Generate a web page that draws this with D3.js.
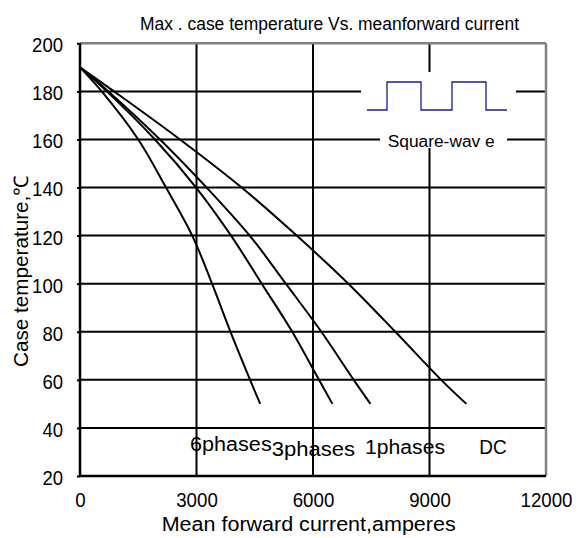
<!DOCTYPE html>
<html>
<head>
<meta charset="utf-8">
<script src="https://cdn.jsdelivr.net/npm/d3@7"></script>
<style>
  body { margin: 0; background: #fff; }
  svg { display: block; font-family: "Liberation Sans", Arial, sans-serif; }
</style>
</head>
<body>
<div id="chart"></div>
<script>
// case temperature points shared by every curve
const temps = [190, 180, 160, 140, 120, 100, 80, 60, 50];
// mean forward current (A) read where each curve meets those temperatures
const amps6ph = [0, 560, 1500, 2215, 2890, 3400, 3875, 4380, 4640];
const amps3ph = [0, 690, 1930, 2990, 3890, 4679, 5465, 6155, 6500];
const amps1ph = [0, 730, 2060, 3260, 4370, 5300, 6215, 7048, 7480];
const ampsDC  = [0, 875, 2575, 4163, 5580, 6910, 8120, 9300, 9950];
const seriesNames = ["6phases", "3phases", "1phases", "DC"];
const xTicks = [0, 3000, 6000, 9000, 12000];
const yTicks = [20, 40, 60, 80, 100, 120, 140, 160, 180, 200];

const W = 585, H = 538;
const plotL = 80, plotR = 546, plotT = 43.3, plotB = 476;

const svg = d3.select("#chart").append("svg")
  .attr("width", W).attr("height", H);

const x = d3.scaleLinear().domain([0, 12000]).range([plotL, plotR]);
const y = d3.scaleLinear().domain([20, 200]).range([plotB, plotT]);

// grid
svg.append("g")
  .selectAll("line")
  .data(yTicks.slice(1, -1))
  .enter().append("line")
  .attr("x1", plotL).attr("x2", plotR)
  .attr("y1", d => y(d)).attr("y2", d => y(d))
  .attr("stroke", "#000").attr("stroke-width", 2);

svg.append("g")
  .selectAll("line")
  .data(xTicks.slice(1, -1))
  .enter().append("line")
  .attr("x1", d => x(d)).attr("x2", d => x(d))
  .attr("y1", plotT).attr("y2", plotB)
  .attr("stroke", "#000").attr("stroke-width", 2);

// frame: grey top/right, black left/bottom
svg.append("line").attr("x1", plotL).attr("x2", plotR).attr("y1", plotT).attr("y2", plotT)
  .attr("stroke", "#808080").attr("stroke-width", 2.5);
svg.append("line").attr("x1", plotR).attr("x2", plotR).attr("y1", plotT).attr("y2", plotB)
  .attr("stroke", "#808080").attr("stroke-width", 2.5);
svg.append("line").attr("x1", plotL).attr("x2", plotR).attr("y1", plotB).attr("y2", plotB)
  .attr("stroke", "#000").attr("stroke-width", 2.5);
svg.append("line").attr("x1", plotL).attr("x2", plotL).attr("y1", plotT).attr("y2", plotB)
  .attr("stroke", "#000").attr("stroke-width", 2.5);

// axes (labels only, the frame is drawn above)
const xAxis = svg.append("g")
  .attr("transform", "translate(0," + plotB + ")")
  .call(d3.axisBottom(x).tickValues(xTicks).tickSize(0).tickPadding(0).tickFormat(d3.format("d")));
xAxis.select(".domain").remove();
xAxis.selectAll("text")
  .attr("y", 30.5).attr("dy", null)
  .attr("fill", "#000")
  .style("font-size", "20px")
  .attr("textLength", d => String(d).length * 10.4)
  .attr("lengthAdjust", "spacingAndGlyphs");

const yAxis = svg.append("g")
  .attr("transform", "translate(" + plotL + ",0)")
  .call(d3.axisLeft(y).tickValues(yTicks).tickSize(3).tickPadding(14));
yAxis.select(".domain").remove();
yAxis.selectAll("line").attr("stroke", "#000").attr("stroke-width", 2);
yAxis.selectAll("text")
  .attr("dy", "0.32em")
  .attr("y", 2)
  .attr("fill", "#000")
  .style("font-size", "20px")
  .attr("textLength", d => String(d).length * 10.3)
  .attr("lengthAdjust", "spacingAndGlyphs");

// curves
const allAmps = [amps6ph, amps3ph, amps1ph, ampsDC];
const line = d3.line()
  .x(d => x(d[0]))
  .y(d => y(d[1]))
  .curve(d3.curveCatmullRom.alpha(0.5));

svg.append("g")
  .selectAll("path")
  .data(allAmps.map(a => a.map((v, i) => [v, temps[i]])))
  .enter().append("path")
  .attr("d", line)
  .attr("fill", "none")
  .attr("stroke", "#000")
  .attr("stroke-width", 2);

// series labels along the bottom
const labelPos = [[190, 451, 81.7], [271.7, 455.7, 83.3], [365, 454, 80], [479.3, 454, 27.4]];
svg.append("g")
  .selectAll("text")
  .data(seriesNames)
  .enter().append("text")
  .attr("x", (d, i) => labelPos[i][0])
  .attr("y", (d, i) => labelPos[i][1])
  .attr("textLength", (d, i) => labelPos[i][2])
  .attr("lengthAdjust", "spacingAndGlyphs")
  .style("font-size", "20px")
  .text(d => d);

// square-wave legend
svg.append("rect").attr("x", 361).attr("y", 72).attr("width", 155).attr("height", 56).attr("fill", "#fff");
svg.append("rect").attr("x", 380).attr("y", 126).attr("width", 127).attr("height", 22).attr("fill", "#fff");
const wave = [[367, 110], [387, 110], [387, 82], [421, 82], [421, 110], [452, 110],
              [452, 82], [486, 82], [486, 110], [507, 110]];
svg.append("path")
  .attr("d", d3.line()(wave))
  .attr("fill", "none")
  .attr("stroke", "#1c1c8c")
  .attr("stroke-width", 1.3);
svg.append("text")
  .attr("x", 387.7).attr("y", 147)
  .attr("textLength", 107)
  .attr("lengthAdjust", "spacingAndGlyphs")
  .style("font-size", "16px")
  .text("Square-wav e");

// titles
svg.append("text")
  .attr("x", 140).attr("y", 30)
  .attr("textLength", 379)
  .attr("lengthAdjust", "spacingAndGlyphs")
  .style("font-size", "17.5px")
  .text("Max . case temperature Vs. meanforward current");

svg.append("text")
  .attr("x", 161.7).attr("y", 531)
  .attr("textLength", 294)
  .attr("lengthAdjust", "spacingAndGlyphs")
  .style("font-size", "20px")
  .text("Mean forward current,amperes");

svg.append("text")
  .attr("transform", "translate(28,367) rotate(-90)")
  .attr("textLength", 192)
  .attr("lengthAdjust", "spacingAndGlyphs")
  .style("font-size", "20px")
  .text("Case temperature,℃");
</script>
</body>
</html>
